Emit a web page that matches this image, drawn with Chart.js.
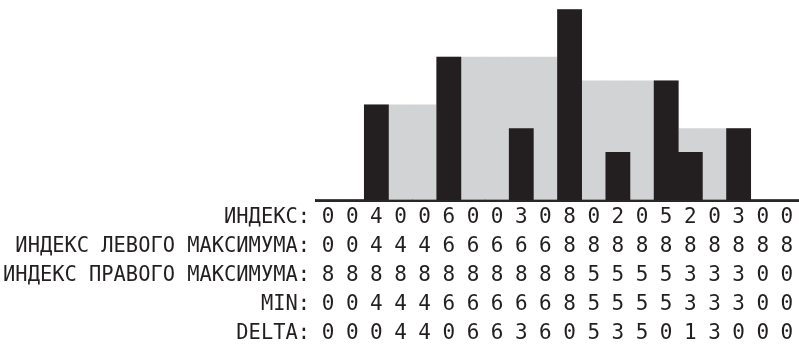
<!DOCTYPE html>
<html>
<head>
<meta charset="utf-8">
<script src="https://cdn.jsdelivr.net/npm/chart.js@4"></script>
<style>
  html, body { margin: 0; padding: 0; background: #fff; }
  #wrap { width: 799px; height: 350px; }
</style>
</head>
<body>
<div id="wrap"><canvas id="chart"></canvas></div>
<script>
// данные: высоты столбцов и вспомогательные строки
const heights   = [0, 0, 4, 0, 0, 6, 0, 0, 3, 0, 8, 0, 2, 0, 5, 2, 0, 3, 0, 0];
const leftMax   = [0, 0, 4, 4, 4, 6, 6, 6, 6, 6, 8, 8, 8, 8, 8, 8, 8, 8, 8, 8];
const rightMax  = [8, 8, 8, 8, 8, 8, 8, 8, 8, 8, 8, 5, 5, 5, 5, 3, 3, 3, 0, 0];
const minLevel  = [0, 0, 4, 4, 4, 6, 6, 6, 6, 6, 8, 5, 5, 5, 5, 3, 3, 3, 0, 0];
const delta     = [0, 0, 0, 4, 4, 0, 6, 6, 3, 6, 0, 5, 3, 5, 0, 1, 3, 0, 0, 0];
const rowTitles = ['ИНДЕКС:', 'ИНДЕКС ЛЕВОГО МАКСИМУМА:', 'ИНДЕКС ПРАВОГО МАКСИМУМА:', 'MIN:', 'DELTA:'];

const FONT = "'DejaVu Sans Mono', 'Liberation Mono', monospace";
const LINE_H = 29;
const TICK_PAD = 3;

// подписи под столбцами — по одной строке на каждый ряд
const labels = heights.map((h, i) => [
    String(h), String(leftMax[i]), String(rightMax[i]), String(minLevel[i]), String(delta[i])
]);

const rowTitlePlugin = {
    id: 'rowTitles',
    afterDraw(chart) {
        const xs = chart.scales.x;
        const ctx = chart.ctx;
        ctx.save();
        ctx.font = '20.4px ' + FONT;
        ctx.fillStyle = '#231f20';
        ctx.textAlign = 'right';
        ctx.textBaseline = 'middle';
        rowTitles.forEach((t, k) => {
            ctx.fillText(t, xs.left - 6, xs.top + TICK_PAD + LINE_H * (k + 0.5));
        });
        ctx.restore();
    }
};

function displayChart() {
    const ctx = document.getElementById('chart').getContext('2d');
    new Chart(ctx, {
        type: 'bar',
        data: {
            labels: labels,
            datasets: [{
                label: 'высота',
                data: heights,
                backgroundColor: '#231f20',
                borderWidth: 0,
                order: 0
            }, {
                label: 'уровень воды',
                data: minLevel,
                backgroundColor: '#d1d3d4',
                borderWidth: 0,
                order: 1
            }]
        },
        options: {
            responsive: true,
            maintainAspectRatio: false,
            animation: false,
            datasets: { bar: { barPercentage: 1, categoryPercentage: 1 } },
            layout: { padding: { left: 316, right: 0, top: 0, bottom: 0 } },
            plugins: { legend: { display: false }, tooltip: { enabled: false } },
            scales: {
                x: {
                    stacked: true,
                    grid: { display: false, drawTicks: false },
                    border: { display: true, color: '#2a2627', width: 3 },
                    afterFit(scale) { scale.height = 150; },
                    ticks: {
                        autoSkip: false,
                        maxRotation: 0,
                        padding: TICK_PAD,
                        color: '#231f20',
                        font: { family: FONT, size: 21, lineHeight: LINE_H + 'px' }
                    }
                },
                y: {
                    display: false,
                    stacked: false,
                    min: 0,
                    max: 8.4
                }
            }
        },
        plugins: [rowTitlePlugin]
    });
}

displayChart();
</script>
</body>
</html>
